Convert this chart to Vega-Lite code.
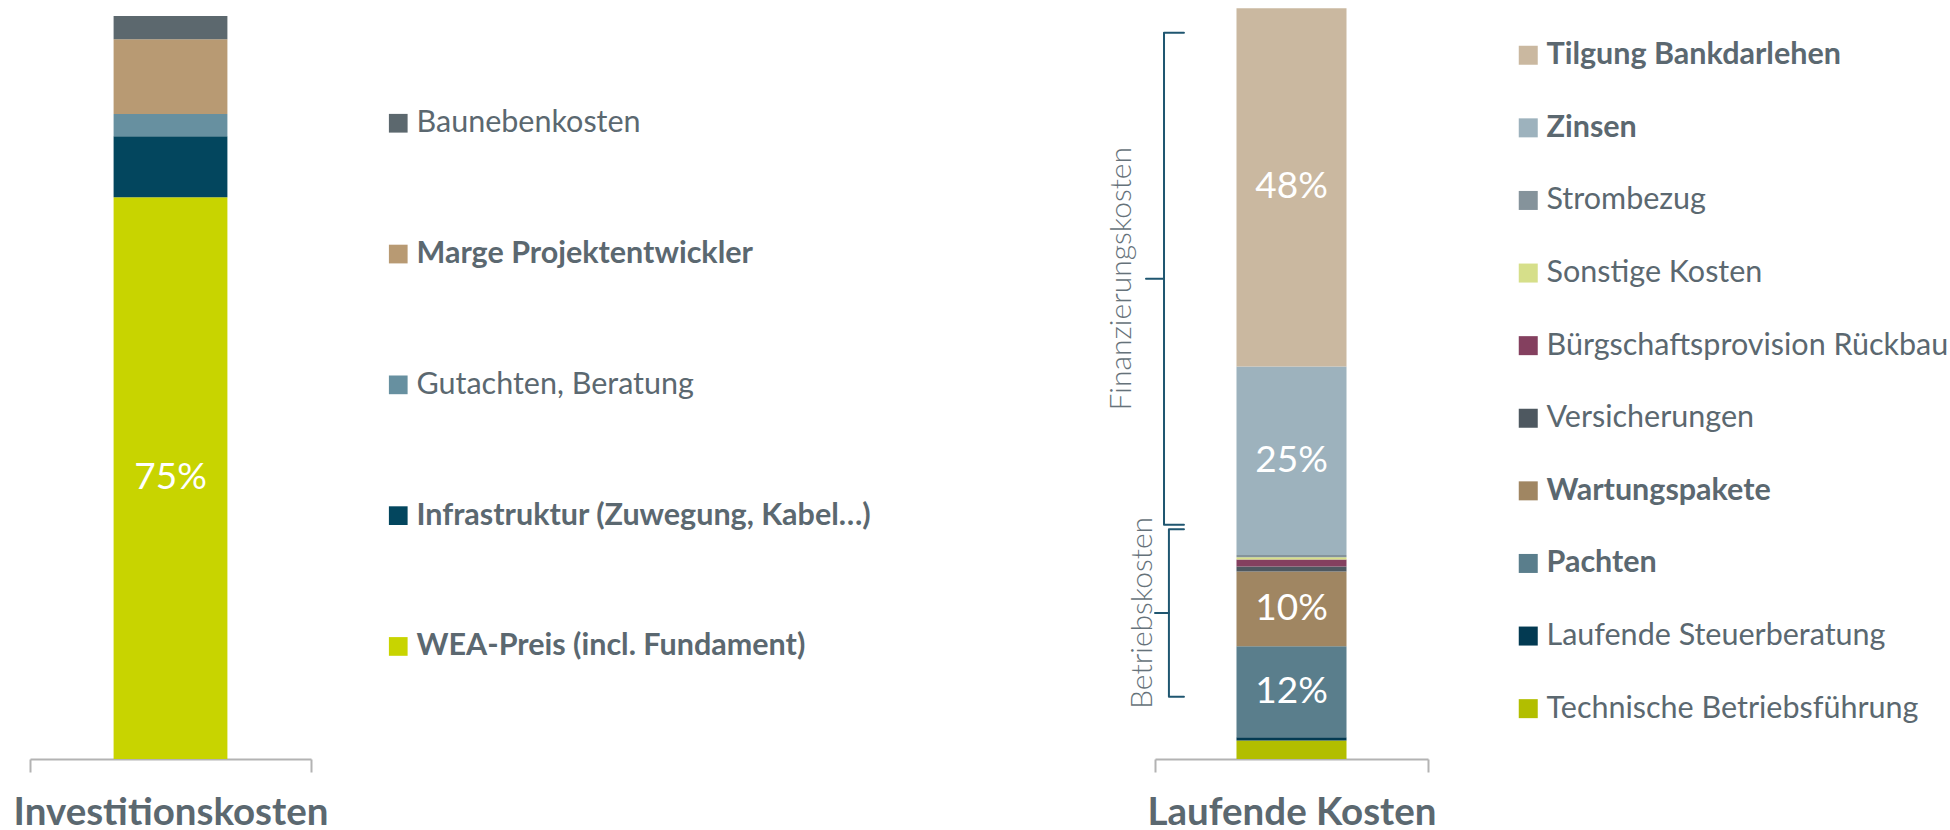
{
  "$schema": "https://vega.github.io/schema/vega-lite/v6.json",
  "background": "white",
  "padding": {"left": 13, "top": 8, "right": 0, "bottom": 0},
  "bounds": "flush",
  "spacing": 844,
  "config": {"view": {"stroke": null}, "font": "Lato"},
  "resolve": {"scale": {"color": "independent", "y": "independent", "x": "independent"}, "legend": {"color": "independent"}},
  "hconcat": [
    {
      "width": 281,
      "height": 751,
      "data": {"values": [
        {"chart": "Investitionskosten", "order": 1, "item": "WEA-Preis (incl. Fundament)", "value": 75.62, "label": "75%"},
        {"chart": "Investitionskosten", "order": 2, "item": "Infrastruktur (Zuwegung, Kabel…)", "value": 8.2, "label": ""},
        {"chart": "Investitionskosten", "order": 3, "item": "Gutachten, Beratung", "value": 2.99, "label": ""},
        {"chart": "Investitionskosten", "order": 4, "item": "Marge Projektentwickler", "value": 10.05, "label": ""},
        {"chart": "Investitionskosten", "order": 5, "item": "Baunebenkosten", "value": 3.14, "label": ""}
      ]},
      "transform": [
        {"stack": "value", "groupby": ["chart"], "sort": [{"field": "order", "order": "ascending"}], "as": ["y0", "y1"]},
        {"calculate": "(datum.y0 + datum.y1) / 2", "as": "ymid"}
      ],
      "layer": [
        {
          "mark": {"type": "bar", "width": {"band": 0.405}},
          "encoding": {
            "x": {"field": "chart", "type": "nominal", "scale": {"paddingInner": 0, "paddingOuter": 0},
              "axis": {"title": "Investitionskosten", "labels": false, "domainColor": "#b3b3b3", "domainWidth": 2, "tickColor": "#b3b3b3", "tickWidth": 2, "tickSize": 13, "tickBand": "extent", "titleFont": "Lato", "titleFontSize": 38.5, "titleFontWeight": "bold", "titleColor": "#5b6870", "titleBaseline": "alphabetic", "titlePadding": 51}},
            "y": {"field": "y0", "type": "quantitative", "scale": {"domain": [0, 101.08], "nice": false, "zero": true}, "axis": null},
            "y2": {"field": "y1"},
            "color": {"field": "item", "type": "nominal",
              "scale": {"domain": ["Baunebenkosten", "Marge Projektentwickler", "Gutachten, Beratung", "Infrastruktur (Zuwegung, Kabel…)", "WEA-Preis (incl. Fundament)"],
                        "range": ["#5c686e", "#b89a73", "#6790a0", "#03465e", "#c8d400"]},
              "legend": {"title": null, "orient": "none", "legendX": 353, "legendY": 100, "symbolType": "square", "symbolSize": 350, "symbolStrokeWidth": 0, "symbolOpacity": 1,
                "labelFont": "Lato", "labelFontSize": 30.5, "labelColor": "#5b6870", "labelOffset": 3, "rowPadding": 99.8, "labelLimit": 1000,
                "encode": {"labels": {"update": {"fontWeight": {"signal": "indexof(['Marge Projektentwickler','Infrastruktur (Zuwegung, Kabel…)','WEA-Preis (incl. Fundament)'], datum.label) >= 0 ? 'bold' : 'normal'"}}}}}}
          }
        },
        {
          "mark": {"type": "text", "color": "white", "font": "Lato", "fontSize": 37, "baseline": "middle", "align": "center"},
          "encoding": {
            "x": {"field": "chart", "type": "nominal"},
            "y": {"field": "ymid", "type": "quantitative"},
            "text": {"field": "label"}
          }
        }
      ]
    },
    {
      "width": 273,
      "height": 751,
      "resolve": {"scale": {"x": "independent"}, "axis": {"x": "independent"}},
      "layer": [
        {
          "data": {"values": [
            {"chart": "Laufende Kosten", "order": 1, "item": "Technische Betriebsführung", "value": 2.47, "label": ""},
            {"chart": "Laufende Kosten", "order": 2, "item": "Laufende Steuerberatung", "value": 0.42, "label": ""},
            {"chart": "Laufende Kosten", "order": 3, "item": "Pachten", "value": 12.13, "label": "12%"},
            {"chart": "Laufende Kosten", "order": 4, "item": "Wartungspakete", "value": 9.94, "label": "10%"},
            {"chart": "Laufende Kosten", "order": 5, "item": "Versicherungen", "value": 0.67, "label": ""},
            {"chart": "Laufende Kosten", "order": 6, "item": "Bürgschaftsprovision Rückbau", "value": 0.93, "label": ""},
            {"chart": "Laufende Kosten", "order": 7, "item": "Sonstige Kosten", "value": 0.31, "label": ""},
            {"chart": "Laufende Kosten", "order": 8, "item": "Strombezug", "value": 0.31, "label": ""},
            {"chart": "Laufende Kosten", "order": 9, "item": "Zinsen", "value": 25.1, "label": "25%"},
            {"chart": "Laufende Kosten", "order": 10, "item": "Tilgung Bankdarlehen", "value": 47.7, "label": "48%"}
          ]},
          "transform": [
            {"stack": "value", "groupby": ["chart"], "sort": [{"field": "order", "order": "ascending"}], "as": ["y0", "y1"]},
            {"calculate": "(datum.y0 + datum.y1) / 2", "as": "ymid"}
          ],
          "layer": [
            {
              "mark": {"type": "bar", "width": {"band": 0.403}},
              "encoding": {
                "x": {"field": "chart", "type": "nominal", "scale": {"paddingInner": 0, "paddingOuter": 0},
                  "axis": {"title": "Laufende Kosten", "labels": false, "domainColor": "#b3b3b3", "domainWidth": 2, "tickColor": "#b3b3b3", "tickWidth": 2, "tickSize": 13, "tickBand": "extent", "titleFont": "Lato", "titleFontSize": 38.5, "titleFontWeight": "bold", "titleColor": "#5b6870", "titleBaseline": "alphabetic", "titlePadding": 51}},
                "y": {"field": "y0", "type": "quantitative", "scale": {"domain": [0, 100], "nice": false}, "axis": null},
                "y2": {"field": "y1"},
                "color": {"field": "item", "type": "nominal",
                  "scale": {"domain": ["Tilgung Bankdarlehen", "Zinsen", "Strombezug", "Sonstige Kosten", "Bürgschaftsprovision Rückbau", "Versicherungen", "Wartungspakete", "Pachten", "Laufende Steuerberatung", "Technische Betriebsführung"],
                            "range": ["#cab8a0", "#9db2bd", "#85939b", "#d6df8a", "#84405f", "#4e5860", "#a08662", "#5a7e8c", "#033a52", "#b2be00"]},
                  "legend": {"title": null, "orient": "none", "legendX": 358, "legendY": 32, "symbolType": "square", "symbolSize": 361, "symbolStrokeWidth": 0, "symbolOpacity": 1,
                    "labelFont": "Lato", "labelFontSize": 30.5, "labelColor": "#5b6870", "labelOffset": 3, "rowPadding": 41.6, "labelLimit": 1000,
                    "encode": {"labels": {"update": {"fontWeight": {"signal": "indexof(['Tilgung Bankdarlehen','Zinsen','Wartungspakete','Pachten'], datum.label) >= 0 ? 'bold' : 'normal'"}}}}}}
              }
            },
            {
              "mark": {"type": "text", "color": "white", "font": "Lato", "fontSize": 37, "baseline": "middle", "align": "center"},
              "encoding": {
                "x": {"field": "chart", "type": "nominal"},
                "y": {"field": "ymid", "type": "quantitative"},
                "text": {"field": "label"}
              }
            }
          ]
        },
        {
          "data": {"values": [
            {"group": "Finanzierungskosten", "start": 31.2, "end": 96.7},
            {"group": "Betriebskosten", "start": 8.3, "end": 30.6}
          ]},
          "transform": [{"calculate": "(datum.start + datum.end) / 2", "as": "mid"}],
          "layer": [
            {
              "transform": [{"filter": "datum.group === 'Finanzierungskosten'"}],
              "mark": {"type": "rule", "color": "#1f5670", "strokeWidth": 2},
              "encoding": {
                "x": {"datum": 0.033, "type": "quantitative", "scale": {"domain": [0, 1]}, "axis": null},
                "y": {"field": "start", "type": "quantitative", "scale": {"domain": [0, 100], "nice": false}, "axis": null},
                "y2": {"field": "end"}
              }
            },
            {
              "transform": [{"filter": "datum.group === 'Finanzierungskosten'"}],
              "mark": {"type": "rule", "color": "#1f5670", "strokeWidth": 2, "strokeCap": "round"},
              "encoding": {"x": {"datum": 0.033, "type": "quantitative"}, "x2": {"datum": 0.106}, "y": {"field": "end", "type": "quantitative"}}
            },
            {
              "transform": [{"filter": "datum.group === 'Finanzierungskosten'"}],
              "mark": {"type": "rule", "color": "#1f5670", "strokeWidth": 2, "strokeCap": "round"},
              "encoding": {"x": {"datum": 0.033, "type": "quantitative"}, "x2": {"datum": 0.106}, "y": {"field": "start", "type": "quantitative"}}
            },
            {
              "transform": [{"filter": "datum.group === 'Finanzierungskosten'"}],
              "mark": {"type": "rule", "color": "#1f5670", "strokeWidth": 2, "strokeCap": "round"},
              "encoding": {"x": {"datum": -0.033, "type": "quantitative"}, "x2": {"datum": 0.033}, "y": {"field": "mid", "type": "quantitative"}}
            },
            {
              "transform": [{"filter": "datum.group === 'Betriebskosten'"}],
              "mark": {"type": "rule", "color": "#1f5670", "strokeWidth": 2},
              "encoding": {"x": {"datum": 0.051, "type": "quantitative"}, "y": {"field": "start", "type": "quantitative"}, "y2": {"field": "end"}}
            },
            {
              "transform": [{"filter": "datum.group === 'Betriebskosten'"}],
              "mark": {"type": "rule", "color": "#1f5670", "strokeWidth": 2, "strokeCap": "round"},
              "encoding": {"x": {"datum": 0.051, "type": "quantitative"}, "x2": {"datum": 0.106}, "y": {"field": "end", "type": "quantitative"}}
            },
            {
              "transform": [{"filter": "datum.group === 'Betriebskosten'"}],
              "mark": {"type": "rule", "color": "#1f5670", "strokeWidth": 2, "strokeCap": "round"},
              "encoding": {"x": {"datum": 0.051, "type": "quantitative"}, "x2": {"datum": 0.106}, "y": {"field": "start", "type": "quantitative"}}
            },
            {
              "transform": [{"filter": "datum.group === 'Betriebskosten'"}],
              "mark": {"type": "rule", "color": "#1f5670", "strokeWidth": 2, "strokeCap": "round"},
              "encoding": {"x": {"datum": 0.0, "type": "quantitative"}, "x2": {"datum": 0.051}, "y": {"field": "mid", "type": "quantitative"}}
            },
            {
              "transform": [{"filter": "datum.group === 'Finanzierungskosten'"}],
              "mark": {"type": "text", "angle": 270, "baseline": "alphabetic", "align": "center", "font": "Lato", "fontSize": 30, "fontWeight": 300, "color": "#66727a"},
              "encoding": {
                "x": {"datum": -0.088, "type": "quantitative"},
                "y": {"field": "mid", "type": "quantitative"},
                "text": {"field": "group"}
              }
            },
            {
              "transform": [{"filter": "datum.group === 'Betriebskosten'"}],
              "mark": {"type": "text", "angle": 270, "baseline": "alphabetic", "align": "center", "font": "Lato", "fontSize": 30, "fontWeight": 300, "color": "#66727a"},
              "encoding": {
                "x": {"datum": -0.011, "type": "quantitative"},
                "y": {"field": "mid", "type": "quantitative"},
                "text": {"field": "group"}
              }
            }
          ]
        }
      ]
    }
  ]
}
